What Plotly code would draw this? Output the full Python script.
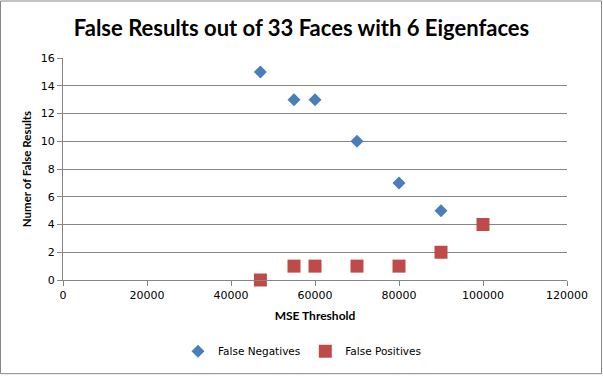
import plotly.graph_objects as go

fn_x = [47000, 55000, 60000, 70000, 80000, 90000]
fn_y = [15, 13, 13, 10, 7, 5]
fp_x = [47000, 55000, 60000, 70000, 80000, 90000, 100000]
fp_y = [0, 1, 1, 1, 1, 2, 4]

W, H = 603, 378
L, R, T, B = 63, 36, 58, 96
pw, ph = W - L - R, H - T - B

fig = go.Figure()
fig.add_trace(go.Scatter(x=fn_x, y=fn_y, mode="markers", name="False Negatives",
                         cliponaxis=False,
                         marker=dict(symbol="diamond", size=10, color="#4A7EBB",
                                     line=dict(width=0))))
fig.add_trace(go.Scatter(x=fp_x, y=fp_y, mode="markers", name="False Positives",
                         cliponaxis=False,
                         marker=dict(symbol="square", size=13, color="#BE4B48",
                                     line=dict(width=0))))

fig.update_layout(
    width=W, height=H,
    margin=dict(l=L, r=R, t=T, b=B),
    paper_bgcolor="white", plot_bgcolor="white",
    font=dict(family="DejaVu Sans", size=11, color="black"),
    title=dict(text="<b>False Results out of 33 Faces with 6 Eigenfaces</b>",
               font=dict(family="Lato", size=22, color="black"),
               x=0.5, xanchor="center", y=1 - 28 / H, yanchor="middle"),
    xaxis=dict(range=[0, 120000], tickvals=[0, 20000, 40000, 60000, 80000, 100000, 120000],
               ticktext=["0", "20000", "40000", "60000", "80000", "100000", "120000"],
               showgrid=False, zeroline=False, showline=True, linecolor="#868686",
               ticks="outside", ticklen=5, tickcolor="#868686",
               tickfont=dict(family="DejaVu Sans", size=11),
               title=dict(text="<b>MSE Threshold</b>", font=dict(family="Lato", size=12),
                          standoff=10)),
    yaxis=dict(range=[0, 16], tickvals=list(range(0, 17, 2)),
               showgrid=True, gridcolor="#868686", gridwidth=1, zeroline=False,
               showline=True, linecolor="#868686",
               ticks="outside", ticklen=5, tickcolor="#868686",
               tickfont=dict(family="DejaVu Sans", size=11),
               title=dict(text="<b>Numer of False Results</b>", font=dict(family="Lato", size=11.5),
                          standoff=6)),
    legend=dict(orientation="h", x=(302 - L) / pw, xanchor="center",
                y=-(354 - (H - B)) / ph, yanchor="middle",
                font=dict(family="DejaVu Sans", size=10.5), itemwidth=30,
                tracegroupgap=0),
    showlegend=True,
)

fig.add_shape(type="rect", xref="paper", yref="paper",
              x0=(0.5 - L) / pw, x1=(W - 1.5 - L) / pw,
              y0=-(H - 1.5 - (H - B)) / ph, y1=(H - B - 0.5) / ph,
              line=dict(color="#868686", width=1), fillcolor="rgba(0,0,0,0)", layer="below")

fig.write_html("out.html", config={"displayModeBar": False},
               post_script="document.body.style.margin='0';document.body.style.overflow='hidden';")
